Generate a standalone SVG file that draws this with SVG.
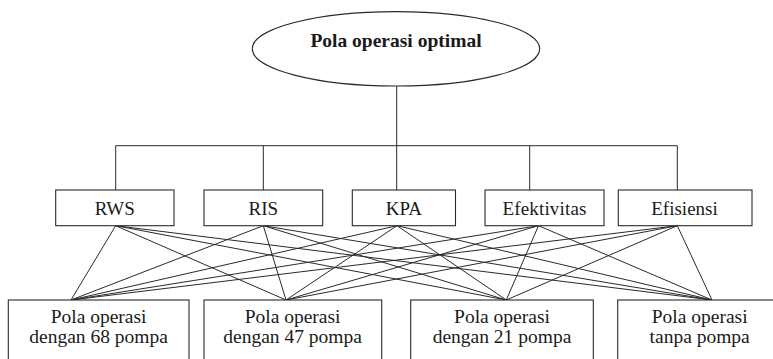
<svg xmlns="http://www.w3.org/2000/svg" width="773" height="359" viewBox="0 0 773 359">
<style>
  .shape { fill: #ffffff; stroke: #2a2a2a; stroke-width: 1.1; }
  .conn { fill: none; stroke: #2a2a2a; stroke-width: 1; }
  text { font-family: "Liberation Serif", "Times New Roman", serif; fill: #1a1a1a; text-anchor: middle; }
  .lbl { font-size: 19px; }
  .lbl2 { font-size: 19.5px; }
  .title { font-size: 19.5px; font-weight: bold; }
</style>
<rect x="0" y="0" width="773" height="359" fill="#ffffff"/>

<g id="connectors">
  <path class="conn" d="M396.7,86 V145.7 M115.7,145.7 H677.3 M115.7,145.7 V190 M263.3,145.7 V190 M396.7,145.7 V190 M529.7,145.7 V190 M677.3,145.7 V190"/>
  <line class="conn" x1="115.7" y1="225.7" x2="71" y2="300"/>
  <line class="conn" x1="115.7" y1="225.7" x2="286" y2="300"/>
  <line class="conn" x1="115.7" y1="225.7" x2="506.3" y2="300"/>
  <line class="conn" x1="115.7" y1="225.7" x2="712" y2="300"/>
  <line class="conn" x1="263.3" y1="225.7" x2="71" y2="300"/>
  <line class="conn" x1="263.3" y1="225.7" x2="286" y2="300"/>
  <line class="conn" x1="263.3" y1="225.7" x2="506.3" y2="300"/>
  <line class="conn" x1="263.3" y1="225.7" x2="712" y2="300"/>
  <line class="conn" x1="397" y1="225.7" x2="71" y2="300"/>
  <line class="conn" x1="397" y1="225.7" x2="286" y2="300"/>
  <line class="conn" x1="397" y1="225.7" x2="506.3" y2="300"/>
  <line class="conn" x1="397" y1="225.7" x2="712" y2="300"/>
  <line class="conn" x1="538.5" y1="225.7" x2="71" y2="300"/>
  <line class="conn" x1="538.5" y1="225.7" x2="286" y2="300"/>
  <line class="conn" x1="538.5" y1="225.7" x2="506.3" y2="300"/>
  <line class="conn" x1="538.5" y1="225.7" x2="712" y2="300"/>
  <line class="conn" x1="677.3" y1="225.7" x2="71" y2="300"/>
  <line class="conn" x1="677.3" y1="225.7" x2="286" y2="300"/>
  <line class="conn" x1="677.3" y1="225.7" x2="506.3" y2="300"/>
  <line class="conn" x1="677.3" y1="225.7" x2="712" y2="300"/>
</g>

<g id="goal">
  <ellipse class="shape" cx="396" cy="48.8" rx="143.7" ry="37.2"/>
  <text class="title" x="396" y="46.7">Pola operasi optimal</text>
</g>

<g id="rws">
  <rect class="shape" x="55.7" y="190" width="118.3" height="35.7"/>
  <text class="lbl" x="114.8" y="215">RWS</text>
</g>
<g id="ris">
  <rect class="shape" x="204" y="190" width="118.7" height="35.7"/>
  <text class="lbl" x="263.3" y="215">RIS</text>
</g>
<g id="kpa">
  <rect class="shape" x="352.3" y="190" width="103.2" height="35.7"/>
  <text class="lbl" x="403.9" y="215">KPA</text>
</g>
<g id="efektivitas">
  <rect class="shape" x="485" y="190" width="119" height="35.7"/>
  <text class="lbl" x="544.4" y="215" textLength="84" lengthAdjust="spacing">Efektivitas</text>
</g>
<g id="efisiensi">
  <rect class="shape" x="618.3" y="190" width="133.7" height="35.7"/>
  <text class="lbl" x="684.5" y="215">Efisiensi</text>
</g>

<g id="alt68">
  <rect class="shape" x="8.3" y="300" width="180.7" height="80"/>
  <text class="lbl2" x="98.6" y="323.3">Pola operasi</text>
  <text class="lbl2" x="98.6" y="343.3">dengan 68 pompa</text>
</g>
<g id="alt47">
  <rect class="shape" x="204" y="300" width="177.7" height="80"/>
  <text class="lbl2" x="292.6" y="323.3">Pola operasi</text>
  <text class="lbl2" x="292.6" y="343.3">dengan 47 pompa</text>
</g>
<g id="alt21">
  <rect class="shape" x="410.7" y="300" width="182.6" height="80"/>
  <text class="lbl2" x="502" y="323.3">Pola operasi</text>
  <text class="lbl2" x="502" y="343.3">dengan 21 pompa</text>
</g>
<g id="alt0">
  <rect class="shape" x="617.7" y="300" width="170" height="80"/>
  <text class="lbl2" x="699.7" y="323.3">Pola operasi</text>
  <text class="lbl2" x="699.7" y="343.3">tanpa pompa</text>
</g>
</svg>
